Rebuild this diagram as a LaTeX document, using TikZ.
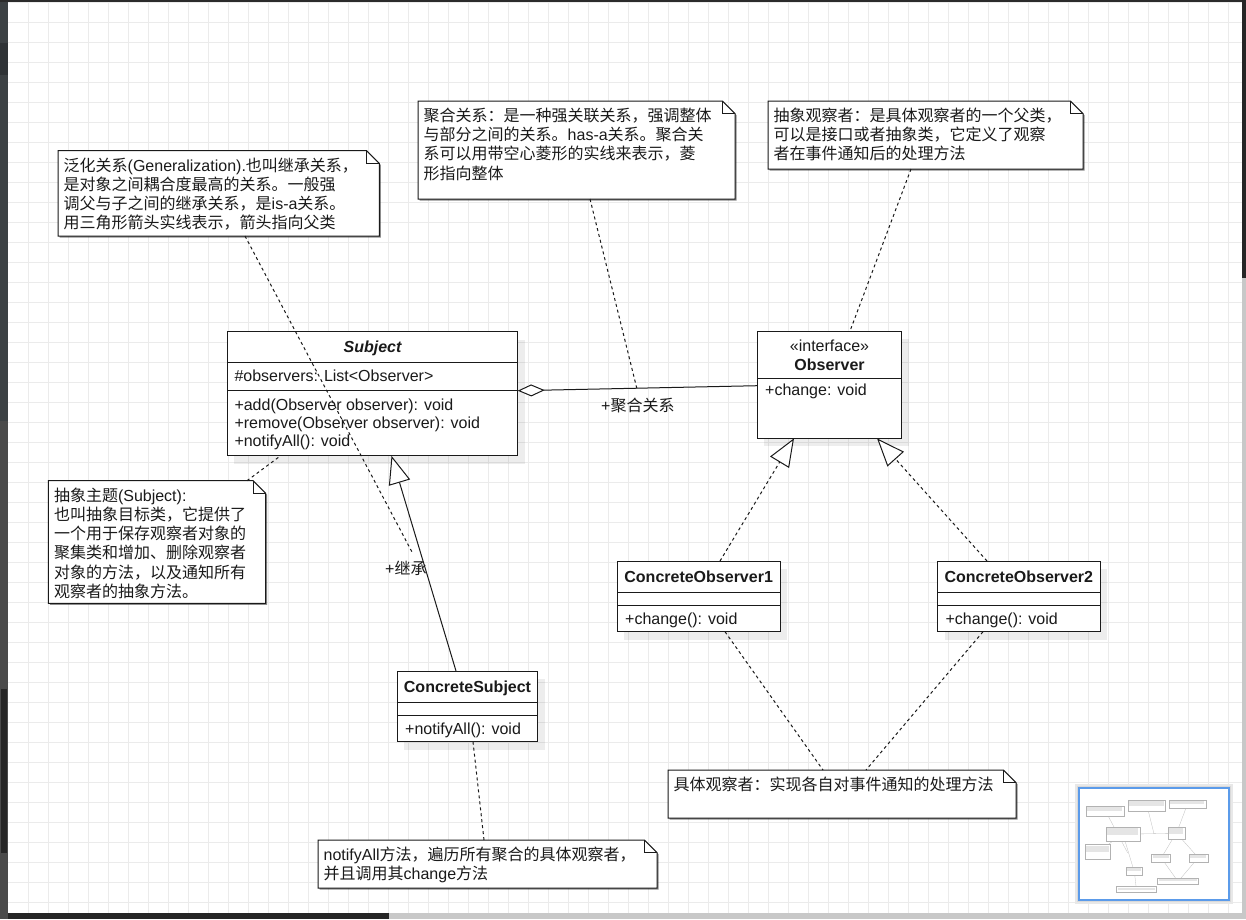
\documentclass[tikz,border=0pt]{standalone}
\usepackage{fontspec}
\setmainfont{Liberation Sans}
\newfontfamily\cjk{Noto Sans CJK SC}
\newfontfamily\lat{Liberation Sans}
\usetikzlibrary{arrows.meta,calc,shadows}

\definecolor{gridc}{HTML}{EBEBEB}
\definecolor{ink}{HTML}{1A1A1A}
\definecolor{panelA}{HTML}{3C4144}
\definecolor{panelB}{HTML}{2F3336}
\definecolor{panelC}{HTML}{4A4A4A}
\definecolor{panelD}{HTML}{262626}
\definecolor{topstrip}{HTML}{2B2B2B}
\definecolor{barlight}{HTML}{C8C8C8}
\definecolor{miniblue}{HTML}{5B9BEA}

\tikzset{
  gridline/.style={draw=gridc, line width=1pt},
  cls/.style={draw=ink, line width=1pt, fill=white, inner sep=0pt, outer sep=0pt,
    anchor=north west,
    drop shadow={shadow xshift=7pt, shadow yshift=-8pt, fill=black, opacity=0.07}},
  sepline/.style={draw=ink, line width=1pt},
  ctext/.style={inner sep=0pt, anchor=base west, font=\fontsize{16}{19}\selectfont, text=ink},
  ctitle/.style={inner sep=0pt, anchor=base, font=\fontsize{16}{19}\selectfont\bfseries, text=ink},
  noteframe/.style={inner sep=0pt, outer sep=0pt, anchor=north west},
  noteoutline/.style={draw=ink, line width=1pt, fill=white,
    drop shadow={shadow xshift=1.5pt, shadow yshift=-1.5pt, fill=black, opacity=0.45}},
  notefold/.style={draw=ink, line width=1pt},
  notetext/.style={inner sep=0pt, anchor=base west, font=\cjk\fontsize{16}{19}\selectfont, text=ink},
  edgelabel/.style={inner sep=0pt, anchor=base west, font=\cjk\fontsize{16}{19}\selectfont, text=ink},
  solidedge/.style={draw=ink, line width=1pt},
  dashedge/.style={draw=ink, line width=1pt, dash pattern=on 3pt off 3pt},
  gentip/.style={-{Triangle[fill=white, length=28pt, width=22pt]}},
  aggtip/.style={{Diamond[fill=white, length=27pt, width=12pt]}-},
  minibox/.style={draw=black!30, line width=0.4pt, fill=white},
  minitext/.style={fill=black!10},
  miniline/.style={draw=black!25, line width=0.3pt},
}

% note with folded corner: name, x, y, width, height, lines
\newcommand\umlnote[6]{%
  \node[noteframe, minimum width=#4, minimum height=#5] (#1) at (#2,#3) {};
  \path[noteoutline] (#1.north west) -- ($(#1.north east)+(-12.7,0)$)
    -- ($(#1.north east)+(0,12.7)$) -- (#1.south east) -- (#1.south west) -- cycle;
  \draw[notefold] ($(#1.north east)+(-12.7,0)$) |- ($(#1.north east)+(0,12.7)$);
  \foreach \ntext [count=\k from 0] in {#6}
    \node[notetext] (#1-\k) at ($(#1.north west)+(5.5,{20.5+19.2*\k})$) {\ntext};
}

\begin{document}
\begin{tikzpicture}[x=1pt,y=-1pt]
\useasboundingbox (0,0) rectangle (1246,919);
\fill[white] (0,0) rectangle (1246,919);

% canvas grid
\foreach \gx in {28,48,...,1228} \draw[gridline] (\gx,2) -- (\gx,913);
\foreach \gy in {2,22,...,902} \draw[gridline] (8,\gy) -- (1242,\gy);

% editor frame
\fill[panelA] (0,0) rectangle (8,43);
\fill[panelB] (0,43) rectangle (8,75);
\fill[panelA] (0,75) rectangle (8,421);
\fill[panelC] (0,421) rectangle (8,919);
\fill[panelD] (1,689) rectangle (7,853);
\fill[topstrip] (0,0) rectangle (1246,2);
\fill[panelD] (8,913) rectangle (389,919);
\fill[barlight] (389,913) rectangle (1246,919);
\fill[panelD] (1242,0) rectangle (1246,278);
\fill[barlight] (1242,278) rectangle (1246,913);

% ---------- classes ----------
\node[cls, minimum width=290.4, minimum height=124.3] (sub) at (227.3,331.5) {};
\draw[sepline] ($(sub.north west)+(0,30.8)$) -- ($(sub.north east)+(0,30.8)$);
\draw[sepline] ($(sub.north west)+(0,59.2)$) -- ($(sub.north east)+(0,59.2)$);
\node[ctitle, font=\fontsize{16}{19}\selectfont\bfseries\itshape] (subT) at ($(sub.north)+(0,20.7)$) {Subject};
\node[ctext] (subA) at ($(sub.north west)+(7,49.5)$) {\#observers: List<Observer>};
\node[ctext] (subM1) at ($(sub.north west)+(7,78.5)$) {+add(Observer observer): void};
\node[ctext] (subM2) at ($(sub.north west)+(7,96.5)$) {+remove(Observer observer): void};
\node[ctext] (subM3) at ($(sub.north west)+(7,114.7)$) {+notifyAll(): void};

\node[cls, minimum width=144.4, minimum height=107.3] (obs) at (757.3,331) {};
\draw[sepline] ($(obs.north west)+(0,47.3)$) -- ($(obs.north east)+(0,47.3)$);
\node[ctitle, font=\fontsize{16}{19}\selectfont] (obsS) at ($(obs.north)+(0,20.7)$) {«interface»};
\node[ctitle] (obsT) at ($(obs.north)+(0,39)$) {Observer};
\node[ctext] (obsM) at ($(obs.north west)+(7.7,64.5)$) {+change: void};

\node[cls, minimum width=162.7, minimum height=70.7] (co1) at (617.3,561) {};
\draw[sepline] ($(co1.north west)+(0,31.3)$) -- ($(co1.north east)+(0,31.3)$);
\draw[sepline] ($(co1.north west)+(0,44)$) -- ($(co1.north east)+(0,44)$);
\node[ctitle] (co1T) at ($(co1.north)+(0,21.5)$) {ConcreteObserver1};
\node[ctext] (co1M) at ($(co1.north west)+(7.7,63.5)$) {+change(): void};

\node[cls, minimum width=162.3, minimum height=70.7] (co2) at (937.7,561) {};
\draw[sepline] ($(co2.north west)+(0,31.3)$) -- ($(co2.north east)+(0,31.3)$);
\draw[sepline] ($(co2.north west)+(0,44)$) -- ($(co2.north east)+(0,44)$);
\node[ctitle] (co2T) at ($(co2.north)+(0,21.5)$) {ConcreteObserver2};
\node[ctext] (co2M) at ($(co2.north west)+(7.7,63.5)$) {+change(): void};

\node[cls, minimum width=140.4, minimum height=70.7] (csub) at (397.3,671) {};
\draw[sepline] ($(csub.north west)+(0,31.3)$) -- ($(csub.north east)+(0,31.3)$);
\draw[sepline] ($(csub.north west)+(0,44)$) -- ($(csub.north east)+(0,44)$);
\node[ctitle] (csubT) at ($(csub.north)+(0,21.5)$) {ConcreteSubject};
\node[ctext] (csubM) at ($(csub.north west)+(7.7,63.5)$) {+notifyAll(): void};

% ---------- relations ----------
\coordinate (aggA) at ($(sub.north east)+(0,59.2)$);
\coordinate (aggB) at ($(obs.north west)+(0,54.7)$);
\draw[solidedge, aggtip] (aggA) -- (aggB);
\coordinate (aggMid) at ($(aggA)!0.497!(aggB)$);
\node[edgelabel] (aggL) at (601,411) {{\lat +}聚合关系};

\coordinate (genA) at ($(csub.north west)+(58.7,0)$);
\coordinate (genB) at ($(sub.south west)+(164.2,0)$);
\draw[solidedge, gentip] (genA) -- (genB);
\node[edgelabel] (genL) at (385,574) {{\lat +}继承};
\coordinate (genMid) at (412,552);

\draw[dashedge, gentip] ($(co1.north west)+(102.7,0)$) -- ($(obs.south west)+(36.7,0)$);
\draw[dashedge, gentip] ($(co2.north west)+(49.3,0)$) -- ($(obs.south west)+(119.7,0)$);

% ---------- notes ----------
\umlnote{genNote}{58}{150.7}{321.3}{85.3}{%
  {泛化关系{\lat (Generalization).}也叫继承关系，},
  {是对象之间耦合度最高的关系。一般强},
  {调父与子之间的继承关系，是{\lat is-a}关系。},
  {用三角形箭头实线表示，箭头指向父类}}
\umlnote{aggNote}{418}{101}{317}{98}{%
  {聚合关系：是一种强关联关系，强调整体},
  {与部分之间的关系。{\lat has-a}关系。聚合关},
  {系可以用带空心菱形的实线来表示，菱},
  {形指向整体}}
\umlnote{obsNote}{768}{101}{315}{68}{%
  {抽象观察者：是具体观察者的一个父类，},
  {可以是接口或者抽象类，它定义了观察},
  {者在事件通知后的处理方法}}
\umlnote{subNote}{48.3}{480.7}{217.4}{122.6}{%
  {抽象主题{\lat (Subject):}},
  {也叫抽象目标类，它提供了},
  {一个用于保存观察者对象的},
  {聚集类和增加、删除观察者},
  {对象的方法，以及通知所有},
  {观察者的抽象方法。}}
\umlnote{concNote}{668}{770}{348}{48}{%
  {具体观察者：实现各自对事件通知的处理方法}}
\umlnote{notifyNote}{318}{840}{339}{48}{%
  {{\lat notifyAll}方法，遍历所有聚合的具体观察者，},
  {并且调用其{\lat change}方法}}

% note attachments
\draw[dashedge] ($(genNote.south west)+(187,0)$) -- (genMid);
\draw[dashedge] ($(aggNote.south west)+(172,0)$) -- (aggMid);
\draw[dashedge] ($(obsNote.south west)+(143,0)$) -- ($(obs.north west)+(92.7,0)$);
\draw[dashedge] ($(subNote.north west)+(198.7,0)$) -- ($(sub.south west)+(53.2,0)$);
\draw[dashedge] ($(co1.south west)+(107.7,0)$) -- ($(concNote.north west)+(155,0)$);
\draw[dashedge] ($(co2.south west)+(45.3,0)$) -- ($(concNote.north west)+(198,0)$);
\draw[dashedge] ($(csub.south west)+(75.7,0)$) -- ($(notifyNote.north west)+(166,0)$);

% ---------- overview panel ----------
\fill[black!9] (1075,784) rectangle (1233,904);
\fill[black!15] (1077,786) rectangle (1231,902);
\draw[draw=miniblue, line width=1.5pt, fill=white] (1079,788) rectangle (1229,900);
\begin{scope}[shift={(1079.4,788.2)}, scale=0.117]
  \draw[miniline] (518,390.7) -- (757,385.7);
  \draw[miniline] (456,671) -- (391.5,456);
  \draw[miniline] (720,561) -- (794,438);
  \draw[miniline] (987,561) -- (877,438);
  \draw[miniline] (245,236) -- (412,552);
  \draw[miniline] (590,199) -- (637,388);
  \draw[miniline] (911,169) -- (850,331);
  \draw[miniline] (247,481) -- (280.5,456);
  \draw[miniline] (725,632) -- (823,770);
  \draw[miniline] (983,632) -- (866,770);
  \draw[miniline] (473,742) -- (484,840);
  \foreach \ax/\ay/\bx/\by in {58/150.7/379.3/236, 418/101/735/199, 768/101/1083/169,
      227/331/518/456, 757/331/902/438, 617/561/780/632, 938/561/1100/632,
      397/671/538/742, 48/481/266/603, 668/770/1016/818, 318/840/657/888} {
    \draw[minibox] (\ax,\ay) rectangle (\bx,\by);
    \fill[minitext] (\ax+8,\ay+10) rectangle (\bx-14,{\ay+0.55*(\by-\ay)});
  }
\end{scope}
\end{tikzpicture}
\end{document}
